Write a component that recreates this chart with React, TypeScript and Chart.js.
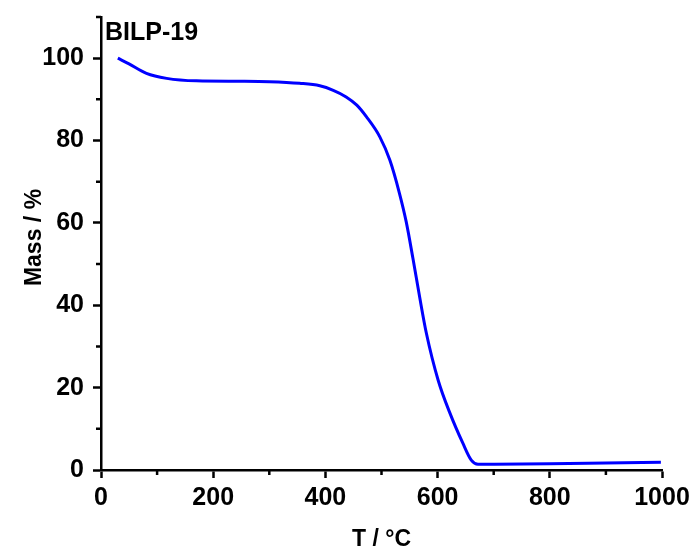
import React, { useEffect, useRef } from "react";
import { Chart, registerables } from "chart.js";

Chart.register(...registerables);

const temperatures = [30, 50, 81, 117, 170, 250, 300, 354, 390, 414, 437, 456, 473, 497, 515, 532, 544, 556, 568, 580, 601, 622, 645, 660, 672, 700, 800, 900, 998];
const massValues = [100, 98.6, 96.3, 95.1, 94.5, 94.4, 94.3, 93.9, 93.3, 92.2, 90.6, 88.6, 85.8, 80.9, 75.2, 67.2, 60.3, 51.4, 42, 33.2, 21.8, 13.8, 6.5, 2.4, 1.4, 1.4, 1.5, 1.7, 1.9];
const xMinorTicks = [100, 300, 500, 700, 900];
const yMinorTicks = [10, 30, 50, 70, 90, 110];
const sampleLabel = "BILP-19";
const yTitle = "Mass / %";
const xTitle = "T / °C";

const FONT = "'Liberation Sans', Arial, sans-serif";

const extrasPlugin = {
  id: "extras",
  afterDraw(chart: any) {
    const ctx = chart.ctx;
    const xs = chart.scales.x;
    const ys = chart.scales.y;
    const area = chart.chartArea;
    ctx.save();
    ctx.strokeStyle = "#000";
    ctx.lineWidth = 2.5;
    ctx.beginPath();
    for (const v of xMinorTicks) {
      const px = xs.getPixelForValue(v);
      ctx.moveTo(px, area.bottom);
      ctx.lineTo(px, area.bottom + 5);
    }
    for (const v of yMinorTicks) {
      const py = ys.getPixelForValue(v);
      ctx.moveTo(area.left, py);
      ctx.lineTo(area.left - 5, py);
    }
    ctx.stroke();
    ctx.fillStyle = "#000";
    ctx.font = `bold 25px ${FONT}`;
    ctx.textAlign = "left";
    ctx.textBaseline = "alphabetic";
    ctx.fillText(sampleLabel, area.left + 4, 40);
    ctx.font = `bold 23px ${FONT}`;
    ctx.translate(41, (area.top + area.bottom) / 2 - 6);
    ctx.rotate(-Math.PI / 2);
    ctx.textAlign = "center";
    ctx.fillText(yTitle, 0, 0);
    ctx.restore();
  },
};

export default function App() {
  const ref = useRef<HTMLCanvasElement>(null);
  useEffect(() => {
    if (!ref.current) return;
    const chart = new Chart(ref.current, {
      type: "line",
      data: {
        datasets: [
          {
            data: temperatures.map((t, i) => ({ x: t, y: massValues[i] })),
            borderColor: "#0000ff",
            borderWidth: 3,
            pointRadius: 0,
            cubicInterpolationMode: "monotone",
            fill: false,
          },
        ],
      },
      options: {
        animation: false,
        responsive: false,
        layout: { padding: { left: 0, right: 36, top: 17, bottom: 0 } },
        plugins: { legend: { display: false }, tooltip: { enabled: false } },
        scales: {
          x: {
            type: "linear",
            min: 0,
            max: 1000,
            afterFit: (s: any) => {
              s.height = 86;
              s.paddingLeft = 0;
              s.paddingRight = 0;
            },
            ticks: {
              stepSize: 200,
              color: "#000",
              font: { family: FONT, size: 25, weight: "bold" },
              padding: 5,
              maxRotation: 0,
              callback: (v: any) => String(v),
            },
            grid: {
              drawOnChartArea: false,
              drawTicks: true,
              tickLength: 8,
              tickWidth: 2.5,
              tickColor: "#000",
            },
            border: { display: true, color: "#000", width: 2.5 },
            title: {
              display: true,
              text: xTitle,
              color: "#000",
              font: { family: FONT, size: 23, weight: "bold" },
              padding: { top: 0, bottom: 3 },
            },
          },
          y: {
            type: "linear",
            min: 0,
            max: 110,
            afterFit: (s: any) => {
              s.width = 101;
              s.paddingTop = 0;
              s.paddingBottom = 0;
            },
            ticks: {
              stepSize: 20,
              includeBounds: false,
              color: "#000",
              font: { family: FONT, size: 25, weight: "bold" },
              padding: 9,
              callback: (v: any) => String(v),
            },
            grid: {
              drawOnChartArea: false,
              drawTicks: true,
              tickLength: 8,
              tickWidth: 2.5,
              tickColor: "#000",
            },
            border: { display: true, color: "#000", width: 2.5 },
            title: { display: false },
          },
        },
      },
      plugins: [extrasPlugin],
    } as any);
    return () => chart.destroy();
  }, []);
  return (
    <div style={{ position: "fixed", left: 0, top: 0, width: 698, height: 556, background: "#fff" }}>
      <canvas ref={ref} width={698} height={556} />
    </div>
  );
}
